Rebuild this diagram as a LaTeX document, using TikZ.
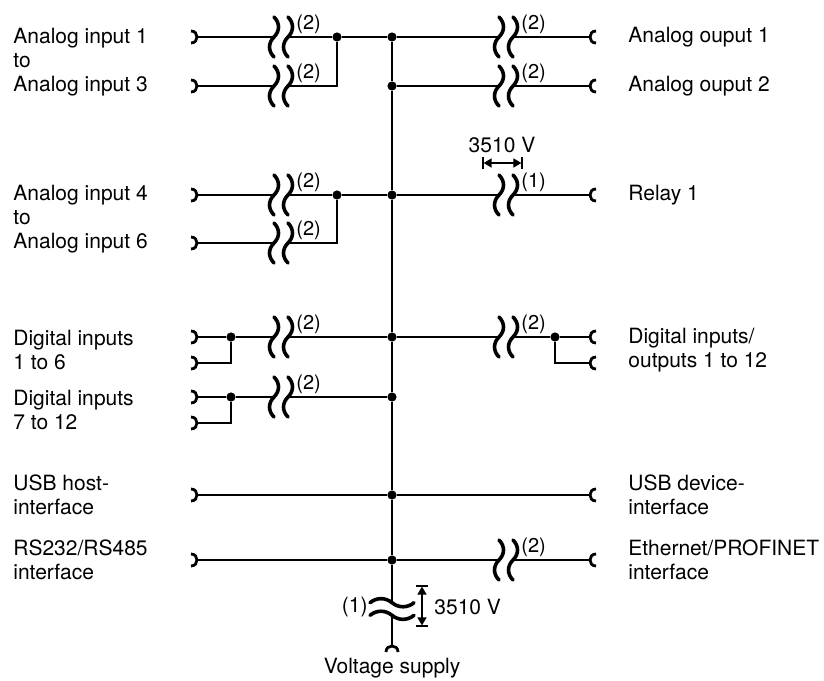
\documentclass[tikz,border=0pt]{standalone}
\usepackage{fontspec}
\setmainfont{TeX Gyre Heros}
\usetikzlibrary{arrows.meta}
\usetikzlibrary{positioning}

\tikzset{
  wire/.style={line width=1.1pt},
  dot/.style={circle,fill,inner sep=0pt,minimum size=4.6pt},
  lbl/.style={align=left,anchor=west,inner sep=0pt,font=\fontsize{10.5}{12}\selectfont},
  num/.style={anchor=south west,inner sep=0pt,font=\fontsize{10}{12}\selectfont},
  dim/.style={line width=0.8pt,|<->|,>={Triangle[length=4pt,width=4.5pt]}},
  iso/.pic={
    \foreach \s in {-7,7}
      \draw[line width=1.8pt,line cap=round] (\s,-20) .. controls (\s+6,-14) and (\s+6,-6) .. (\s,0)
        .. controls (\s-6,6) and (\s-6,14) .. (\s,20);
    \coordinate (-in) at (-7,0);
    \coordinate (-out) at (7,0);
    \node[num] (-lab) at (15,-3) {#1};
  },
  lterm/.pic={
    \draw[line width=1.4pt] (-6,-6) .. controls (2,-6) and (2,6) .. (-6,6);
    \coordinate (-p) at (0,0);
  },
  rterm/.pic={
    \draw[line width=1.4pt] (6,-6) .. controls (-2,-6) and (-2,6) .. (6,6);
    \coordinate (-p) at (0,0);
  },
  bterm/.pic={
    \draw[line width=1.4pt] (-6,6) .. controls (-6,-2) and (6,-2) .. (6,6);
    \coordinate (-p) at (0,0);
  }
}

\begin{document}
\begin{tikzpicture}[x=0.5pt,y=-0.5pt]
   \useasboundingbox (0,0) rectangle (824,680);

   \node[dot] (b_1) at (392,37) {};
   \node[dot] (b_2) at (392,86) {};
   \node[dot] (b_3) at (392,195) {};
   \node[dot] (b_4) at (392,337) {};
   \node[dot] (b_5) at (392,397) {};
   \node[dot] (b_6) at (392,495) {};
   \node[dot] (b_7) at (392,560) {};
   \pic[rotate=90,xscale=0.9,yscale=1.1] (sup) at (392,609) {iso={}};
   \pic (t_sup) at (392,646) {bterm};

   \pic (t_a1) at (197,37) {lterm};
   \pic (t_a3) at (197,86) {lterm};
   \pic (t_a4) at (197,195) {lterm};
   \pic (t_a6) at (197,243) {lterm};
   \pic (t_d1) at (197,337) {lterm};
   \pic (t_d6) at (197,363) {lterm};
   \pic (t_d7) at (197,397) {lterm};
   \pic (t_d12) at (197,423) {lterm};
   \pic (t_usbh) at (197,495) {lterm};
   \pic (t_rs) at (197,560) {lterm};

   \pic (i_a1) at (281,37) {iso={(2)}};
   \pic (i_a3) at (281,86) {iso={(2)}};
   \pic (i_a4) at (281,195) {iso={(2)}};
   \pic (i_a6) at (281,243) {iso={(2)}};
   \pic (i_d1) at (281,337) {iso={(2)}};
   \pic (i_d7) at (281,397) {iso={(2)}};
   \node[dot] (j_a1) at (337,37) {};
   \node[dot] (j_a4) at (337,195) {};
   \node[dot] (j_d1) at (231,337) {};
   \node[dot] (j_d7) at (231,397) {};

   \pic (i_o1) at (506,37) {iso={(2)}};
   \pic (i_o2) at (506,86) {iso={(2)}};
   \pic (i_r1) at (506,195) {iso={(1)}};
   \pic (i_dio) at (506,337) {iso={(2)}};
   \pic (i_eth) at (506,560) {iso={(2)}};
   \node[dot] (j_dio) at (555,337) {};

   \pic (t_o1) at (590,37) {rterm};
   \pic (t_o2) at (590,86) {rterm};
   \pic (t_r1) at (590,195) {rterm};
   \pic (t_dio1) at (590,337) {rterm};
   \pic (t_dio2) at (590,363) {rterm};
   \pic (t_usbd) at (590,495) {rterm};
   \pic (t_eth) at (590,560) {rterm};

   \draw[wire] (t_a1-p) -- (i_a1-in) (i_a1-out) -- (j_a1) -- (b_1) -- (i_o1-in) (i_o1-out) -- (t_o1-p);
   \draw[wire] (t_a3-p) -- (i_a3-in) (i_a3-out) -| (j_a1);
   \draw[wire] (b_2) -- (i_o2-in) (i_o2-out) -- (t_o2-p);
   \draw[wire] (t_a4-p) -- (i_a4-in) (i_a4-out) -- (j_a4) -- (b_3) -- (i_r1-in) (i_r1-out) -- (t_r1-p);
   \draw[wire] (t_a6-p) -- (i_a6-in) (i_a6-out) -| (j_a4);
   \draw[wire] (t_d1-p) -- (j_d1) -- (i_d1-in) (i_d1-out) -- (b_4) -- (i_dio-in) (i_dio-out) -- (j_dio) -- (t_dio1-p);
   \draw[wire] (t_d6-p) -| (j_d1);
   \draw[wire] (t_dio2-p) -| (j_dio);
   \draw[wire] (t_d7-p) -- (j_d7) -- (i_d7-in) (i_d7-out) -- (b_5);
   \draw[wire] (t_d12-p) -| (j_d7);
   \draw[wire] (t_usbh-p) -- (b_6) -- (t_usbd-p);
   \draw[wire] (t_rs-p) -- (b_7) -- (i_eth-in) (i_eth-out) -- (t_eth-p);
   \draw[wire] (b_1) -- (b_2) -- (b_3) -- (b_4) -- (b_5) -- (b_6) -- (b_7) -- (sup-out) (sup-in) -- (t_sup-p);

   \coordinate (d_r1a) at (482,163);
   \coordinate (d_r1b) at (523,163);
   \draw[dim] (d_r1a) -- (d_r1b);
   \node[lbl,anchor=base] (v_r1) at (502,152) {3510 V};
   \coordinate (d_supa) at (422,585);
   \coordinate (d_supb) at (422,627);
   \draw[dim] (d_supa) -- (d_supb);
   \node[lbl] (v_sup) at (434,607) {3510 V};
   \node[lbl,anchor=east] (n_sup) at (368,607) {(1)};
   \node[lbl,anchor=center] (l_sup) at (392,668) {Voltage supply};

   \node[lbl] (l_a13) at (13,62) {Analog input 1\\to\\Analog input 3};
   \node[lbl] (l_a46) at (13,219) {Analog input 4\\to\\Analog input 6};
   \node[lbl] (l_d16) at (13,350) {Digital inputs\\1 to 6};
   \node[lbl] (l_d712) at (13,410) {Digital inputs\\7 to 12};
   \node[lbl] (l_usbh) at (13,495) {USB host-\\interface};
   \node[lbl] (l_rs) at (13,560) {RS232/RS485\\interface};
   \node[lbl] (l_o1) at (628,37) {Analog ouput 1};
   \node[lbl] (l_o2) at (628,86) {Analog ouput 2};
   \node[lbl] (l_r1) at (628,195) {Relay 1};
   \node[lbl] (l_dio) at (628,350) {Digital inputs/\\outputs 1 to 12};
   \node[lbl] (l_usbd) at (628,495) {USB device-\\interface};
   \node[lbl] (l_eth) at (628,560) {Ethernet/PROFINET\\interface};
\end{tikzpicture}
\end{document}
